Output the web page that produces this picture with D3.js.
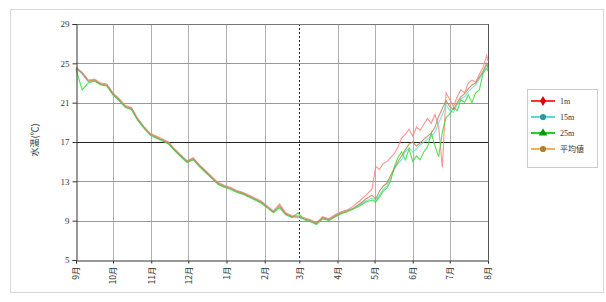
<!DOCTYPE html>
<html>
<head>
<meta charset="utf-8">
<script src="https://cdn.jsdelivr.net/npm/d3@7"></script>
<style>
  body { margin: 0; background: #fff; }
  svg text { font-family: "Liberation Serif", "Noto Sans CJK JP", serif; fill: #333; }
</style>
</head>
<body>
<svg id="chart" width="606" height="302"></svg>
<script>
// days counted from Sep 1 (5-day steps until May, then 3-day steps)
var days = [0,5,10,15,20,25,30,35,40,45,50,55,60,65,70,75,80,85,90,95,100,105,110,115,120,
  125,130,135,140,145,150,155,160,165,170,175,180,185,190,195,200,205,210,215,220,225,230,235,240,
  243,246,249,252,255,258,261,264,267,270,273,276,279,282,285,288,291,294,297,300,
  303,306,309,312,315,318,321,324,327,330,333,334];

var months = ["9月","10月","11月","12月","1月","2月","3月","4月","5月","6月","7月","8月"];
var monthStarts = [0,30,61,91,122,153,181,212,242,273,303,334];
var yTicks = [5,9,13,17,21,25,29];

var m1 = [24.6,24.1,23.3,23.4,23.0,22.9,22.0,21.4,20.7,20.5,19.4,18.6,17.9,17.6,17.3,17.0,16.3,15.7,15.1,15.4,
  14.7,14.1,13.5,12.9,12.6,12.4,12.1,11.9,11.6,11.3,11.0,10.5,10.0,10.7,9.8,9.5,9.5,9.3,9.1,8.8,
  9.4,9.2,9.6,9.9,10.1,10.5,11.0,11.6,12.2,
  14.5,14.2,14.8,15.0,15.4,15.8,16.5,17.4,17.8,18.3,17.6,18.5,18.2,18.8,19.4,18.9,19.8,18.6,14.4,22.0,
  21.3,20.6,21.6,22.3,22.0,23.0,23.3,23.1,23.9,24.6,25.8,25.2];

var m15 = [24.5,23.9,23.1,23.2,22.9,22.7,21.8,21.2,20.6,20.3,19.3,18.5,17.8,17.4,17.2,16.8,16.2,15.6,15.0,15.2,
  14.6,14.0,13.4,12.8,12.5,12.3,12.0,11.8,11.5,11.2,10.9,10.4,9.9,10.4,9.7,9.4,9.3,9.2,9.0,8.7,
  9.2,9.1,9.4,9.7,10.0,10.2,10.6,11.0,11.3,
  11.0,11.6,12.2,12.5,13.3,14.2,14.8,15.2,16.0,16.4,16.0,16.3,16.7,17.0,17.3,17.6,18.0,18.9,19.8,20.8,
  20.2,20.0,20.8,21.4,21.6,22.1,22.5,22.8,23.4,24.0,24.8,24.4];

var m25 = [24.4,22.3,23.0,23.2,22.8,22.7,21.8,21.2,20.5,20.3,19.2,18.4,17.7,17.4,17.1,16.8,16.1,15.5,14.9,15.2,
  14.5,13.9,13.3,12.7,12.4,12.2,11.9,11.7,11.4,11.1,10.8,10.3,9.8,10.3,9.6,9.3,9.8,9.1,8.9,8.6,
  9.2,9.0,9.4,9.7,9.9,10.2,10.5,10.9,11.1,
  10.9,11.4,12.0,12.3,13.0,14.5,15.4,16.0,15.2,16.3,15.0,15.6,15.2,16.0,16.5,17.9,16.6,15.5,18.0,19.5,
  19.8,20.5,20.2,21.3,21.0,21.8,21.0,22.0,22.3,24.0,24.5,24.2];

var avg = [24.5,24.0,23.2,23.3,22.9,22.8,21.9,21.3,20.6,20.4,19.3,18.5,17.8,17.5,17.2,16.9,16.2,15.6,15.0,15.3,
  14.6,14.0,13.4,12.8,12.5,12.3,12.0,11.8,11.5,11.2,10.9,10.4,9.9,10.5,9.7,9.4,9.4,9.2,9.0,8.7,
  9.3,9.1,9.5,9.8,10.0,10.3,10.7,11.2,11.6,
  11.2,12.0,12.5,12.8,13.6,14.3,15.0,15.6,16.2,16.8,17.0,16.6,16.9,17.3,17.6,17.9,18.5,19.6,20.4,21.2,
  20.6,20.3,21.0,21.6,21.9,22.4,22.8,23.0,23.6,24.2,25.0,24.6];

var series = [
  {name: "1m",   values: m1,  line: "#ff8080", legendLine: "#ff3030", marker: "#e00000", shape: d3.symbolDiamond},
  {name: "15m",  values: m15, line: "#66dddd", legendLine: "#55dddd", marker: "#2a9a9a", shape: d3.symbolCircle},
  {name: "25m",  values: m25, line: "#33dd33", legendLine: "#22cc22", marker: "#009900", shape: d3.symbolTriangle},
  {name: "平均値", values: avg, line: "#b8864e", legendLine: "#f5b050", marker: "#b08030", shape: d3.symbolCircle}
];

var svg = d3.select("#chart");
var plot = {left: 76, right: 488, top: 24, bottom: 260};

svg.append("rect")
  .attr("x", 10.5).attr("y", 9.5).attr("width", 593).attr("height", 283)
  .attr("fill", "#fff").attr("stroke", "#d8d8d8");

var x = d3.scaleLinear().domain([0, 334]).range([plot.left, plot.right]);
var y = d3.scaleLinear().domain([5, 29]).range([plot.bottom, plot.top]);

// grid
svg.append("g").selectAll("line").data(monthStarts.slice(1, -1))
  .enter().append("line")
    .attr("x1", function(d) { return Math.round(x(d)) + 0.5; })
    .attr("x2", function(d) { return Math.round(x(d)) + 0.5; })
    .attr("y1", plot.top).attr("y2", plot.bottom)
    .attr("stroke", function(d) { return d === 181 ? "#222" : "#b0b0b0"; })
    .attr("stroke-dasharray", function(d) { return d === 181 ? "2,2" : null; });

svg.append("g").selectAll("line").data(yTicks.slice(1))
  .enter().append("line")
    .attr("x1", plot.left).attr("x2", plot.right)
    .attr("y1", function(d) { return Math.round(y(d)) + 0.5; })
    .attr("y2", function(d) { return Math.round(y(d)) + 0.5; })
    .attr("stroke", function(d) { return d === 17 ? "#222" : (d === 29 ? "#777" : "#999"); });

// right border of plot
svg.append("line")
  .attr("x1", plot.right + 0.5).attr("x2", plot.right + 0.5)
  .attr("y1", plot.top).attr("y2", plot.bottom)
  .attr("stroke", "#555");

// series lines, average drawn last so it sits on top
var line = d3.line()
  .x(function(d, i) { return x(days[i]); })
  .y(function(d) { return y(d); });

svg.append("g").selectAll("path").data(series)
  .enter().append("path")
    .attr("d", function(s) { return line(s.values); })
    .attr("fill", "none")
    .attr("stroke", function(s) { return s.line; })
    .attr("stroke-width", 1.1)
    .attr("stroke-opacity", 0.85);

// axes
var yAxis = svg.append("g")
  .attr("transform", "translate(" + (plot.left + 0.5) + ",0)")
  .call(d3.axisLeft(y).tickValues(yTicks).tickSize(4).tickFormat(d3.format("d")));
yAxis.select(".domain").attr("stroke", "#333");
yAxis.selectAll(".tick line").attr("stroke", "#333");
yAxis.selectAll("text").attr("font-size", 9).attr("fill", "#444")
  .style("font-family", '"Liberation Serif", serif');

var xAxis = svg.append("g")
  .attr("transform", "translate(0," + (plot.bottom + 0.5) + ")")
  .call(d3.axisBottom(x).tickValues(monthStarts).tickSize(3)
    .tickFormat(function(d, i) { return months[i]; }));
xAxis.select(".domain").attr("stroke", "#333");
xAxis.selectAll(".tick line").attr("stroke", "#333");
xAxis.selectAll("text")
  .attr("font-size", 8.5)
  .attr("fill", "#444")
  .attr("text-anchor", "end")
  .attr("dy", "0.35em")
  .attr("transform", "translate(0,6) rotate(-90)")
  .attr("x", 0).attr("y", 0)
  .style("font-family", '"Noto Sans CJK JP", sans-serif');

svg.append("text")
  .attr("transform", "translate(38,140) rotate(-90)")
  .attr("text-anchor", "middle")
  .attr("font-size", 9)
  .style("font-family", '"Noto Sans CJK JP", sans-serif')
  .attr("fill", "#444")
  .text("水温(℃)");

// legend
var legend = svg.append("g").attr("transform", "translate(527,89)");
legend.append("rect")
  .attr("x", 0.5).attr("y", 0.5).attr("width", 70).attr("height", 78)
  .attr("fill", "#fff").attr("stroke", "#ccc");

var items = legend.selectAll("g.item").data(series)
  .enter().append("g").attr("class", "item")
    .attr("transform", function(d, i) { return "translate(0," + (12 + i * 16) + ")"; });
items.append("line")
  .attr("x1", 4).attr("x2", 28).attr("y1", 0).attr("y2", 0)
  .attr("stroke", function(d) { return d.legendLine; }).attr("stroke-width", 2);
items.append("path")
  .attr("transform", "translate(16,0)")
  .attr("d", function(d) { return d3.symbol().type(d.shape).size(30)(); })
  .attr("fill", function(d) { return d.marker; });
items.append("text")
  .attr("x", 33).attr("dy", "0.35em")
  .attr("font-size", 8)
  .attr("fill", "#333")
  .text(function(d) { return d.name; });
</script>
</body>
</html>
